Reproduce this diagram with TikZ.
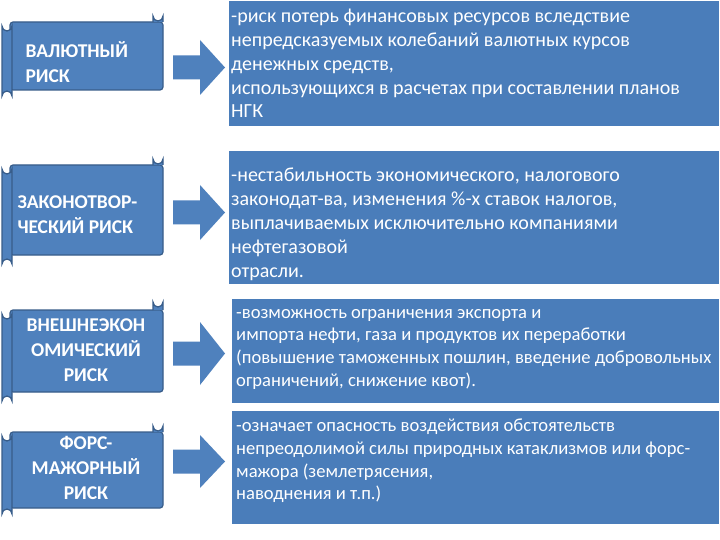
\documentclass[tikz,border=0pt]{standalone}
\usepackage{fontspec}
\setmainfont{Carlito}
\definecolor{bl}{HTML}{4F81BD}
\definecolor{bd}{HTML}{385D8A}
\definecolor{bx}{HTML}{4A7DBA}
\begin{document}
\begin{tikzpicture}[x=1pt,y=-1pt,
  rollst/.style={fill=bl,draw=bd,line width=1.2pt},
  lbl/.style={text=white,font=\bfseries\fontsize{19.5}{25}\selectfont,align=center},
  boxst/.style={fill=bx,draw=white,line width=0.5pt},
  btxt/.style={text=white,font=\fontsize{20}{23.8}\selectfont,align=left,anchor=north west,inner sep=2pt},
  arr/.style={fill=bl,draw=none}]
\useasboundingbox (0,0) rectangle (720,540);
\fill[white] (0,0) rectangle (720,540);
\newcommand\myscroll[5]{%
  \draw[rollst,rounded corners=3pt] (10,#2) rectangle (163,#3);
  \draw[rollst] (153,#2) -- (153,#1+4) arc[start angle=180,end angle=0,radius=5] -- (163,#2);
  \draw[rollst] (2,#2+4) arc[start angle=180,end angle=0,radius=5] -- (12,#4-4) arc[start angle=0,end angle=-180,radius=5] -- cycle;
  \coordinate (#5) at (90,{(#2+#3)/2});}
\newcommand\myarrow[4]{%
  \fill[arr] (173,{(#2+#3)/2-12}) -- (200,{(#2+#3)/2-12}) -- (200,#2) -- (225,{(#2+#3)/2}) -- (200,#3) -- (200,{(#2+#3)/2+12}) -- (173,{(#2+#3)/2+12}) -- cycle;
  \coordinate (#4) at (199,{(#2+#3)/2});}
\myscroll{12}{22}{90}{100}{s1}
\myscroll{155}{165}{255}{268}{s2}
\myscroll{298}{310}{392}{405}{s3}
\myscroll{422}{432}{508}{518}{s4}
\myarrow{173}{40}{95}{a1}
\myarrow{173}{185}{240}{a2}
\myarrow{173}{322}{385}{a3}
\myarrow{173}{435}{488}{a4}
\node[lbl,align=left,anchor=west] (t1) at (22,62) {ВАЛЮТНЫЙ\\РИСК};
\node[lbl,align=left,anchor=west] (t2) at (14,215) {ЗАКОНОТВОР-\\ЧЕСКИЙ РИСК};
\node[lbl] (t3) at (86,350) {ВНЕШНЕЭКОН\\ОМИЧЕСКИЙ\\РИСК};
\node[lbl] (t4) at (86,468) {ФОРС-\\МАЖОРНЫЙ\\РИСК};
\draw[boxst] (228,0) rectangle (719,126);
\draw[boxst] (228,150) rectangle (719,284);
\draw[boxst] (231,298) rectangle (719,403);
\draw[boxst] (231,410) rectangle (719,524);
\node[btxt] (b1) at (229,7) {-риск потерь финансовых ресурсов вследствие\\непредсказуемых колебаний валютных курсов\\денежных средств,\\использующихся в расчетах при составлении планов\\НГК};
\node[btxt] (b2) at (229,166) {-нестабильность экономического, налогового\\законодат-ва, изменения \%-х ставок налогов,\\выплачиваемых исключительно компаниями\\нефтегазовой\\отрасли.};
\node[btxt,font=\fontsize{18.6}{22.7}\selectfont] (b3) at (234,307) {-возможность ограничения экспорта и\\импорта нефти, газа и продуктов их переработки\\(повышение таможенных пошлин, введение добровольных\\ограничений, снижение квот).};
\node[btxt,font=\fontsize{18.6}{22.7}\selectfont] (b4) at (234,417) {-означает опасность воздействия обстоятельств\\непреодолимой силы природных катаклизмов или форс-\\мажора (землетрясения,\\наводнения и т.п.)};
\end{tikzpicture}
\end{document}
